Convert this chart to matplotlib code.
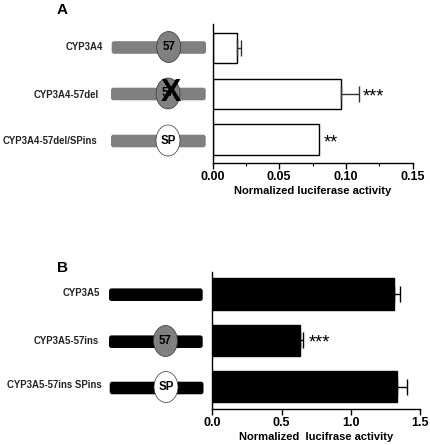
import matplotlib
matplotlib.use("Agg")
import matplotlib.pyplot as plt
from matplotlib.patches import Ellipse, FancyBboxPatch

plt.rcParams["font.family"] = ["Liberation Sans", "DejaVu Sans"]
plt.rcParams["font.weight"] = "bold"

W, H = 430, 445

labels_a = ["CYP3A4", "CYP3A4-57del", "CYP3A4-57del/SPins"]
values_a = [0.0185, 0.0965, 0.08]
errors_a = [0.0025, 0.0135, 0.0]
stars_a = ["", "***", "**"]
ticks_a = [0.00, 0.05, 0.10, 0.15]
minor_a = [0.025, 0.075, 0.125]

labels_b = ["CYP3A5", "CYP3A5-57ins", "CYP3A5-57ins SPins"]
values_b = [1.31, 0.63, 1.335]
errors_b = [0.045, 0.025, 0.07]
stars_b = ["", "***", ""]
ticks_b = [0.0, 0.5, 1.0, 1.5]

xlabel_a = "Normalized luciferase activity"
xlabel_b = "Normalized  lucifrase activity"


def px_axes(fig, left, top, right, bottom):
    return fig.add_axes([left / W, 1 - bottom / H, (right - left) / W, (bottom - top) / H])


def bar_panel(ax, values, errors, color, height, ylim, xmax, ticks, fmt, xlabel, stars, star_x):
    y = range(len(values))
    ax.barh(y, values, height=height, color=color, edgecolor="black", linewidth=1.0)
    for i in y:
        if errors[i] > 0:
            ax.errorbar(values[i], i, xerr=[[0], [errors[i]]], color="#333333" if color == "white" else "black",
                        elinewidth=1.0, capsize=6, capthick=1.0, fmt="none")
        if stars[i]:
            ax.text(star_x[i], i + 0.06, stars[i], fontsize=13, fontweight="normal", va="center", ha="left")
    ax.set_xlim(0, xmax)
    ax.set_ylim(*ylim)
    ax.set_yticks([])
    ax.set_xticks(ticks)
    ax.set_xticklabels([fmt % t for t in ticks], fontsize=9)
    ax.tick_params(axis="x", length=4, width=1.0, pad=2.2)
    ax.spines["top"].set_visible(False)
    ax.spines["right"].set_visible(False)
    ax.spines["left"].set_linewidth(1.0)
    ax.spines["bottom"].set_linewidth(1.0)
    ax.set_xlabel(xlabel, fontsize=8, fontweight="bold", labelpad=2.2)


fig = plt.figure(figsize=(W / 100, H / 100), dpi=100)

ax_a = px_axes(fig, 212.5, 24.3, 412.7, 162.7)
bar_panel(ax_a, values_a, errors_a, "white", 0.67, (2.5, -0.517), 0.15, ticks_a, "%.2f", xlabel_a,
          stars_a, [0, 0.1122, 0.083])
ax_a.set_xticks(minor_a, minor=True)
ax_a.tick_params(axis="x", which="minor", length=2.5, width=0.8)

ax_b = px_axes(fig, 212.3, 271.7, 420, 408.7)
bar_panel(ax_b, values_b, errors_b, "black", 0.69, (2.48, -0.49), 1.5, ticks_b, "%.1f", xlabel_b,
          stars_b, [0, 0.693, 0])

# schematic drawn on a full-figure axes in pixel units
bg = fig.add_axes([0, 0, 1, 1], zorder=5)
bg.set_xlim(0, W)
bg.set_ylim(H, 0)
bg.axis("off")


def rod(x0, x1, yc, color):
    bg.add_patch(FancyBboxPatch((x0, yc - 6.3), x1 - x0, 12.6, boxstyle="round,pad=0,rounding_size=2.5",
                                mutation_aspect=1, fc=color, ec="none"))


def oval(xc, yc, text, color, h=31):
    bg.add_patch(Ellipse((xc, yc), 24, h, fc=color, ec="#333333", lw=0.5, zorder=3))
    bg.text(xc, yc, text, fontsize=8.3, ha="center", va="center", zorder=4)


rod(111.7, 206, 47.5, "#808080")
rod(111, 205.7, 94, "#808080")
rod(111, 205.7, 141, "#808080")
oval(168.7, 47, "57", "#808080")
oval(168, 93.5, "57", "#808080")
bg.text(170.8, 92.6, "X", fontsize=22, ha="center", va="center", zorder=5)
oval(168, 140.5, "SP", "white")

rod(109, 202.7, 294.7, "black")
rod(109, 202.7, 341.7, "black")
rod(109.7, 203.5, 388, "black")
oval(165.5, 341, "57", "#808080")
oval(166, 387, "SP", "white")

for x, y, s in [(102.5, 47.5, labels_a[0]), (99.3, 95, labels_a[1]), (97.7, 140.7, labels_a[2]),
                (100.3, 293.5, labels_b[0]), (99, 341, labels_b[1]), (101.3, 385.5, labels_b[2])]:
    bg.text(x, y, s, fontsize=6.9, ha="right", va="center", color="#222222")

bg.text(56.5, 9.5, "A", fontsize=11, ha="left", va="center")
bg.text(56.5, 268, "B", fontsize=11, ha="left", va="center")

fig.savefig("out.png", dpi=100)
